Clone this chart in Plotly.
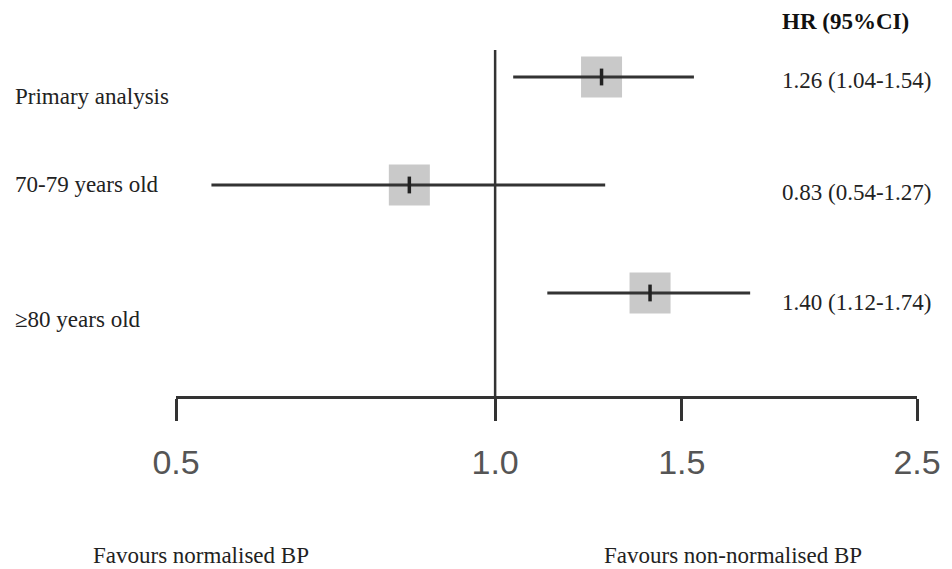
import math
import plotly.graph_objects as go

# ---- data ----
labels = ["Primary analysis", "70-79 years old", "\u226580 years old"]
hr = [1.26, 0.83, 1.40]
ci_low = [1.04, 0.54, 1.12]
ci_high = [1.54, 1.27, 1.74]
hr_text = ["1.26 (1.04-1.54)", "0.83 (0.54-1.27)", "1.40 (1.12-1.74)"]
tick_vals = [0.5, 1.0, 1.5, 2.5]
tick_text = ["0.5", "1.0", "1.5", "2.5"]
header = "HR (95%CI)"
left_note = "Favours normalised BP"
right_note = "Favours non-normalised BP"

# ---- layout geometry ----
W, H = 952, 569
ML, MR, MT, MB = 176, 35, 50, 173
PW = W - ML - MR
PH = H - MT - MB
rows = [3, 2, 1]
label_dy = [-0.18, 0.0, -0.25]   # label text offset from row (y units)
ci_dy = [-0.03, -0.065, -0.09]

SERIF = "Liberation Serif, Times New Roman, serif"
SANS = "Liberation Sans, Arial, sans-serif"

def px_to_paper_x(px):
    return (px - ML) / PW

def px_to_paper_y(py):
    return (H - MB - py) / PH

fig = go.Figure()

# boxes
fig.add_trace(go.Scatter(
    x=hr, y=rows, mode="markers",
    marker=dict(symbol="square", size=41, color="#c9c9c9", line=dict(width=0)),
    hoverinfo="skip", showlegend=False))

# CI lines
for lo, hi, r in zip(ci_low, ci_high, rows):
    fig.add_trace(go.Scatter(
        x=[lo, hi], y=[r, r], mode="lines",
        line=dict(color="#333333", width=3),
        hoverinfo="skip", showlegend=False))

# point estimate tick
fig.add_trace(go.Scatter(
    x=hr, y=rows, mode="markers",
    marker=dict(symbol="line-ns", size=12, line=dict(color="#222222", width=3.5)),
    hoverinfo="skip", showlegend=False))

# reference line at 1
fig.add_shape(type="line", xref="x", yref="paper", x0=1, x1=1, y0=0, y1=1,
              line=dict(color="#333333", width=2.5))

annotations = []
for lab, r, dy in zip(labels, rows, label_dy):
    annotations.append(dict(text=lab, xref="paper", yref="y",
                            x=px_to_paper_x(13), y=r + dy, xanchor="left",
                            yanchor="middle", showarrow=False,
                            font=dict(family=SERIF, size=23, color="#222222")))
for t, r, dy in zip(hr_text, rows, ci_dy):
    annotations.append(dict(text=t, xref="paper", yref="y",
                            x=px_to_paper_x(780), y=r + dy, xanchor="left",
                            yanchor="middle", showarrow=False,
                            font=dict(family=SERIF, size=23, color="#222222")))
annotations.append(dict(text="<b>" + header + "</b>", xref="paper", yref="paper",
                        x=px_to_paper_x(780), y=px_to_paper_y(22), xanchor="left",
                        yanchor="middle", showarrow=False,
                        font=dict(family=SERIF, size=23, color="#111111")))
annotations.append(dict(text=left_note, xref="paper", yref="paper",
                        x=px_to_paper_x(201), y=px_to_paper_y(555), xanchor="center",
                        yanchor="middle", showarrow=False,
                        font=dict(family=SERIF, size=23, color="#222222")))
annotations.append(dict(text=right_note, xref="paper", yref="paper",
                        x=px_to_paper_x(733), y=px_to_paper_y(555), xanchor="center",
                        yanchor="middle", showarrow=False,
                        font=dict(family=SERIF, size=23, color="#222222")))

fig.update_layout(
    width=W, height=H,
    margin=dict(l=ML, r=MR, t=MT, b=MB, pad=0),
    paper_bgcolor="white", plot_bgcolor="white",
    annotations=annotations,
    xaxis=dict(type="log", range=[math.log10(tick_vals[0]), math.log10(tick_vals[-1])],
               tickvals=tick_vals, ticktext=tick_text,
               ticks="outside", ticklen=22, tickwidth=3, tickcolor="#333333",
               showline=True, linecolor="#333333", linewidth=3,
               showgrid=False, zeroline=False,
               tickfont=dict(family=SANS, size=34, color="#555555"),
               ticklabelstandoff=12),
    yaxis=dict(range=[0.046, 3.25], visible=False, showgrid=False, zeroline=False),
)

fig.write_html("out.html", config={"displayModeBar": False},
               post_script="document.body.style.margin='0';document.body.style.padding='0';")
